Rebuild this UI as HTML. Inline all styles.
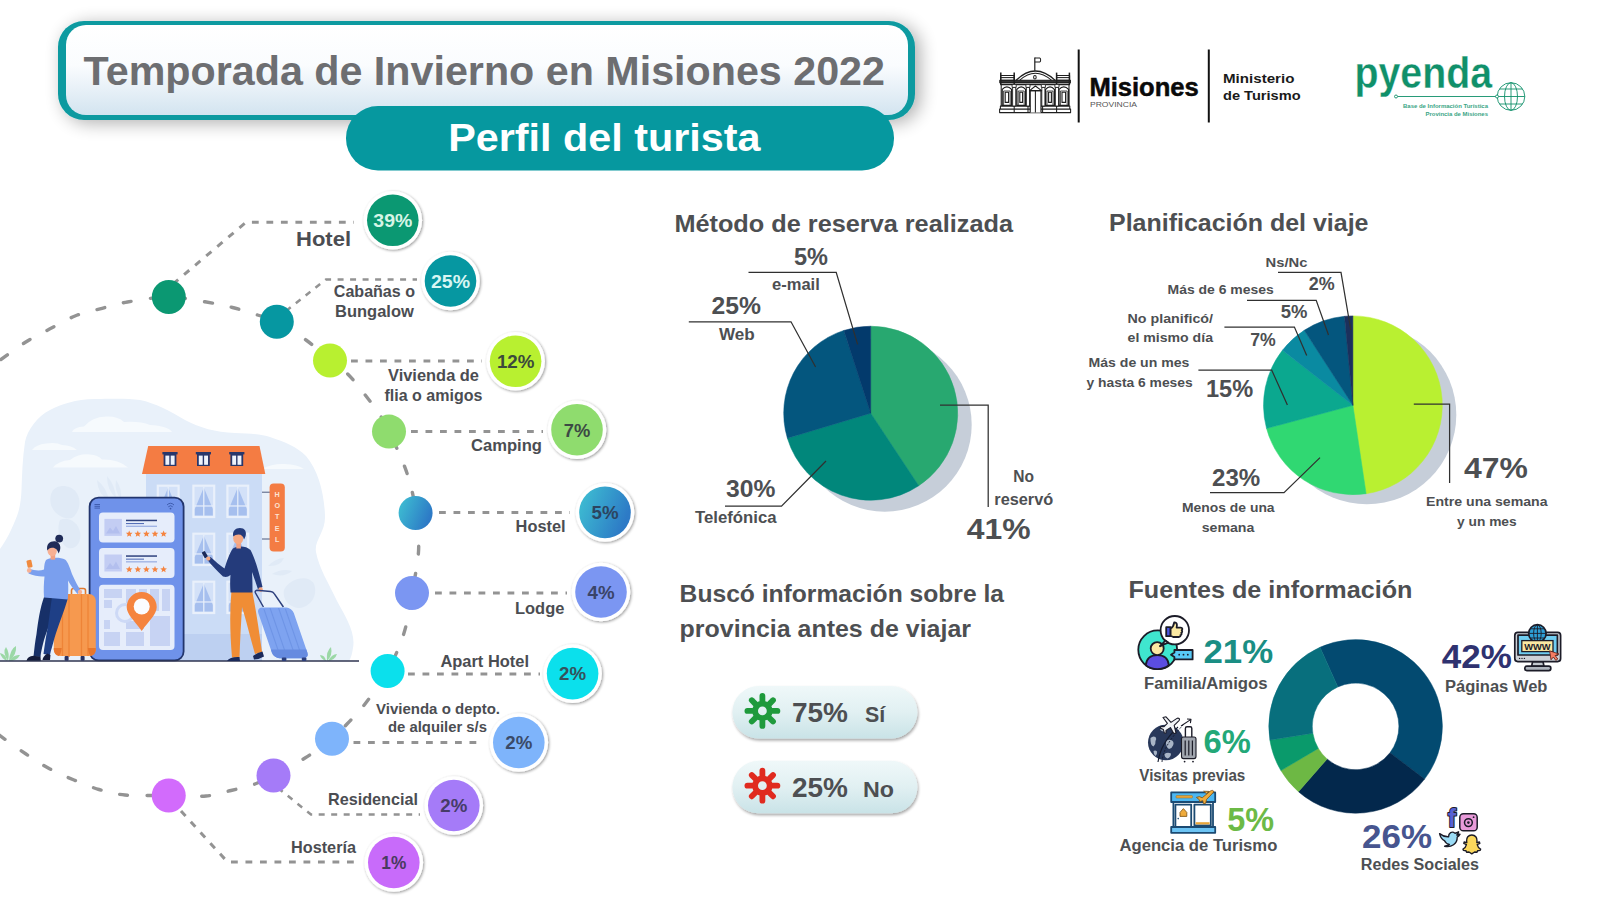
<!DOCTYPE html>
<html lang="es"><head><meta charset="utf-8"><title>Perfil del turista - Temporada de Invierno en Misiones 2022</title>
<style>
html,body{margin:0;padding:0;background:#ffffff;}
body{width:1599px;height:899px;overflow:hidden;font-family:"Liberation Sans", sans-serif;}
svg{display:block;font-family:"Liberation Sans", sans-serif;}
</style></head><body>
<svg width="1599" height="899" viewBox="0 0 1599 899">

<defs>
<linearGradient id="gTitle" x1="0" y1="0" x2="0" y2="1"><stop offset="0" stop-color="#ffffff"/><stop offset="0.45" stop-color="#fafcfe"/><stop offset="1" stop-color="#d3e4f0"/></linearGradient>
<filter id="shTitle" x="-6%" y="-40%" width="114%" height="190%"><feGaussianBlur in="SourceAlpha" stdDeviation="9"/><feOffset dx="5" dy="3"/><feComponentTransfer><feFuncA type="linear" slope="0.32"/></feComponentTransfer><feMerge><feMergeNode/><feMergeNode in="SourceGraphic"/></feMerge></filter>
<linearGradient id="gBlue" x1="0" y1="0" x2="1" y2="0.4"><stop offset="0" stop-color="#3fc3d3"/><stop offset="1" stop-color="#2d7ac6"/></linearGradient><filter id="shBadge" x="-30%" y="-30%" width="160%" height="160%"><feGaussianBlur in="SourceAlpha" stdDeviation="1.7"/><feOffset dx="0.8" dy="1"/><feComponentTransfer><feFuncA type="linear" slope="0.42"/></feComponentTransfer><feMerge><feMergeNode/><feMergeNode in="SourceGraphic"/></feMerge></filter><linearGradient id="gPill" x1="0" y1="0" x2="0" y2="1"><stop offset="0" stop-color="#eff8f9"/><stop offset="0.5" stop-color="#e1f0f2"/><stop offset="1" stop-color="#c9e3e7"/></linearGradient><filter id="shPill" x="-10%" y="-30%" width="120%" height="170%"><feGaussianBlur in="SourceAlpha" stdDeviation="1.8"/><feOffset dx="0.5" dy="1.5"/><feComponentTransfer><feFuncA type="linear" slope="0.35"/></feComponentTransfer><feMerge><feMergeNode/><feMergeNode in="SourceGraphic"/></feMerge></filter>
</defs>

<rect x="58" y="21" width="857" height="99" rx="26" fill="#0a9aa0" filter="url(#shTitle)"/>
<rect x="66" y="25" width="842" height="90" rx="20" fill="url(#gTitle)"/>
<text x="83.6" y="85.2" font-size="40.6" font-weight="700" fill="#6d6e71" text-anchor="start" textLength="801.4" lengthAdjust="spacingAndGlyphs">Temporada de Invierno en Misiones 2022</text>
<rect x="346" y="106" width="548" height="64.5" rx="32" fill="#06989f"/>
<text x="448.2" y="151.0" font-size="39" font-weight="700" fill="#ffffff" text-anchor="start" textLength="312.3" lengthAdjust="spacingAndGlyphs">Perfil del turista</text>
<g fill="none" stroke="#1e1e1e" stroke-width="1.05" stroke-linejoin="round"><rect x="999.6" y="109" width="71" height="3.6" fill="#fff"/><rect x="1000.4" y="106" width="69.4" height="3" fill="#fff"/><line x1="1014.2" y1="106" x2="1014.2" y2="112.6"/><line x1="1028" y1="106" x2="1028" y2="112.6"/><line x1="1042.6" y1="106" x2="1042.6" y2="112.6"/><line x1="1056.6" y1="106" x2="1056.6" y2="112.6"/><rect x="1001.2" y="84.4" width="67.8" height="21.6" fill="#fff"/><rect x="999.8" y="80.2" width="70.6" height="2.6" fill="#333"/><rect x="1000.6" y="82.8" width="69" height="1.8"/><rect x="1000.6" y="75.4" width="13.6" height="4.8"/><rect x="1056.6" y="75.4" width="13" height="4.8"/><line x1="1000.6" y1="77.6" x2="1014.2" y2="77.6"/><line x1="1056.6" y1="77.6" x2="1069.6" y2="77.6"/><line x1="1000.8" y1="72.6" x2="1000.8" y2="84" stroke-width="1.5"/><line x1="1014.2" y1="72.6" x2="1014.2" y2="84" stroke-width="1.5"/><line x1="1056.6" y1="72.6" x2="1056.6" y2="84" stroke-width="1.5"/><line x1="1069.4" y1="72.6" x2="1069.4" y2="84" stroke-width="1.5"/><path d="M1016,80.4 Q1035.2,61.6 1055.2,80.4" stroke-width="1.3"/><path d="M1019.6,80.4 Q1035.2,66.2 1051.6,80.4" stroke-width="1.1"/><ellipse cx="1034.9" cy="77.2" rx="1.3" ry="1.7"/><path d="M1002.2,105.4 V89.4 Q1006.9000000000001,84.4 1011.6,89.4 V105.4 Z" stroke-width="1.25"/><path d="M1003.6,105.4 V91 H1010.2 V105.4" stroke-width="0.8"/><rect x="1005.2" y="92.2" width="3.3999999999999773" height="10.2" stroke-width="1.1"/><path d="M1016.8,105.4 V89.4 Q1021.1999999999999,84.4 1025.6,89.4 V105.4 Z" stroke-width="1.25"/><path d="M1018.1999999999999,105.4 V91 H1024.1999999999998 V105.4" stroke-width="0.8"/><rect x="1019.8" y="92.2" width="2.7999999999999545" height="10.2" stroke-width="1.1"/><path d="M1045.6,105.4 V89.4 Q1050.0,84.4 1054.4,89.4 V105.4 Z" stroke-width="1.25"/><path d="M1047.0,105.4 V91 H1053.0 V105.4" stroke-width="0.8"/><rect x="1048.6" y="92.2" width="2.800000000000182" height="10.2" stroke-width="1.1"/><path d="M1059,105.4 V89.4 Q1063.8,84.4 1068.6,89.4 V105.4 Z" stroke-width="1.25"/><path d="M1060.4,105.4 V91 H1067.1999999999998 V105.4" stroke-width="0.8"/><rect x="1062" y="92.2" width="3.599999999999909" height="10.2" stroke-width="1.1"/><rect x="1012.6" y="87.4" width="3.1" height="18.6" fill="#fff" stroke-width="0.9"/><rect x="1012.1" y="84.4" width="4.1" height="3" fill="#fff" stroke-width="0.9"/><rect x="1026.4" y="87.4" width="3.1" height="18.6" fill="#fff" stroke-width="0.9"/><rect x="1025.9" y="84.4" width="4.1" height="3" fill="#fff" stroke-width="0.9"/><rect x="1041.8" y="87.4" width="3.1" height="18.6" fill="#fff" stroke-width="0.9"/><rect x="1041.3" y="84.4" width="4.1" height="3" fill="#fff" stroke-width="0.9"/><rect x="1055.4" y="87.4" width="3.1" height="18.6" fill="#fff" stroke-width="0.9"/><rect x="1054.9" y="84.4" width="4.1" height="3" fill="#fff" stroke-width="0.9"/><path d="M1030.2,112.6 V90.6 H1041 V112.6" fill="#fff" stroke-width="1.2"/><path d="M1029.6,90.6 L1035.4,86 L1041.6,90.6 Z" stroke-width="1.1"/><line x1="1035.4" y1="90.6" x2="1035.4" y2="112.6"/><line x1="1034.8" y1="70.8" x2="1034.8" y2="57.6" stroke-width="1.2"/><path d="M1034.8,58 H1040.2 Q1041.2,60 1040.2,62 H1034.8" stroke-width="1"/></g>
<line x1="1078.7" y1="49.5" x2="1078.7" y2="122.5" stroke="#111" stroke-width="2"/>
<line x1="1208.8" y1="49.5" x2="1208.8" y2="122.5" stroke="#111" stroke-width="2"/>
<text x="1089.4" y="96.0" font-size="25.5" font-weight="700" fill="#0a0a0a" text-anchor="start" textLength="109.4" lengthAdjust="spacingAndGlyphs" stroke="#0a0a0a" stroke-width="0.5">Misiones</text>
<text x="1090.0" y="106.6" font-size="8" font-weight="400" fill="#555" text-anchor="start" textLength="47.0" lengthAdjust="spacingAndGlyphs">PROVINCIA</text>
<text x="1223.0" y="83.0" font-size="13.5" font-weight="700" fill="#1a1a1a" text-anchor="start" textLength="71.4" lengthAdjust="spacingAndGlyphs">Ministerio</text>
<text x="1223.0" y="99.9" font-size="13.5" font-weight="700" fill="#1a1a1a" text-anchor="start" textLength="77.6" lengthAdjust="spacingAndGlyphs">de Turismo</text>
<text x="1354.5" y="88.4" font-size="43.5" font-weight="700" fill="#10906a" text-anchor="start" textLength="137.5" lengthAdjust="spacingAndGlyphs" stroke="#ffffff" stroke-width="0.3">pyenda</text>
<g fill="none" stroke="#10906a" stroke-width="0.9"><line x1="1397.5" y1="96.5" x2="1497" y2="96.5"/><circle cx="1396" cy="96.5" r="1.5" fill="#fff"/><circle cx="1511" cy="96.5" r="13.8"/><ellipse cx="1511" cy="96.5" rx="6.5" ry="13.8"/><line x1="1511" y1="82.7" x2="1511" y2="110.3"/><line x1="1497.2" y1="96.5" x2="1524.8" y2="96.5"/><path d="M1499.5,89 H1522.5 M1499.5,104 H1522.5"/><circle cx="1497" cy="96.5" r="1.5" fill="#fff"/></g>
<text x="1488.0" y="108.0" font-size="5.6" font-weight="700" fill="#3aa585" text-anchor="end" textLength="85.0" lengthAdjust="spacingAndGlyphs">Base de Información Turística</text>
<text x="1488.0" y="115.6" font-size="5.6" font-weight="700" fill="#3aa585" text-anchor="end" textLength="62.5" lengthAdjust="spacingAndGlyphs">Provincia de Misiones</text>
<path d="M-8.0,366.0 C-2.5,362.1 15.3,348.7 25.0,342.5 C34.7,336.3 41.7,333.2 50.0,328.8 C58.3,324.4 66.7,319.3 75.0,316.0 C83.3,312.7 91.2,311.1 100.0,308.8 C108.8,306.5 116.0,304.0 127.5,302.0 C139.0,300.0 155.9,297.0 168.8,297.0 C181.7,297.0 194.4,300.1 205.0,301.8 C215.6,303.6 223.8,305.3 232.5,307.5 C241.2,309.7 250.1,312.6 257.5,315.0 C264.9,317.4 268.7,317.6 276.8,321.8 C284.9,326.0 297.1,333.6 306.0,340.0 C314.9,346.4 323.1,354.9 330.0,360.5 C336.9,366.1 341.5,367.9 347.5,373.8 C353.5,379.7 360.6,389.1 366.0,396.0 C371.4,402.9 376.2,409.1 380.0,415.0 C383.8,420.9 384.9,423.1 389.0,431.6 C393.1,440.1 400.6,456.1 404.4,466.0 C408.2,475.9 410.1,483.2 412.0,491.0 C413.9,498.8 414.5,503.2 415.6,513.0 C416.7,522.8 419.2,536.7 418.6,550.0 C418.0,563.3 414.4,579.2 412.0,593.0 C409.6,606.8 408.1,620.0 404.0,633.0 C399.9,646.0 394.1,659.2 387.6,671.0 C381.1,682.8 371.8,695.2 365.0,704.0 C358.2,712.8 352.5,718.2 347.0,724.0 C341.5,729.8 339.0,733.1 332.0,738.8 C325.0,744.4 314.8,751.9 305.0,758.0 C295.2,764.1 281.8,771.2 273.5,775.5 C265.2,779.8 262.1,781.5 255.0,784.0 C247.9,786.5 239.2,788.5 231.0,790.5 C222.8,792.5 216.4,795.2 206.0,796.0 C195.6,796.8 182.2,795.7 168.8,795.5 C155.2,795.3 136.6,796.0 125.0,795.0 C113.4,794.0 107.5,792.0 99.0,789.5 C90.5,787.0 82.2,783.4 74.0,780.0 C65.8,776.6 58.0,773.3 50.0,769.0 C42.0,764.7 35.7,760.5 26.0,754.0 C16.3,747.5 -2.3,734.0 -8.0,730.0" fill="none" stroke="#939393" stroke-width="3.4" stroke-dasharray="7.8 19.45" stroke-dashoffset="-11.2" stroke-linecap="round"/>
<path d="M173,284 L246,222.3 H354" fill="none" stroke="#939393" stroke-width="3" stroke-dasharray="6.8 7.7"/>
<path d="M286,311 L326,279.5 H417" fill="none" stroke="#939393" stroke-width="2.5" stroke-dasharray="6 6.5"/>
<path d="M351,361 H482" fill="none" stroke="#939393" stroke-width="3" stroke-dasharray="6.8 7.7"/>
<path d="M411,431.6 H543" fill="none" stroke="#939393" stroke-width="3" stroke-dasharray="6.8 7.7"/>
<path d="M439,512.6 H570" fill="none" stroke="#939393" stroke-width="3" stroke-dasharray="6.8 7.7"/>
<path d="M435,593 H567" fill="none" stroke="#939393" stroke-width="3" stroke-dasharray="6.8 7.7"/>
<path d="M408,674 H540" fill="none" stroke="#939393" stroke-width="3" stroke-dasharray="6.8 7.7"/>
<path d="M353.5,742.5 H484" fill="none" stroke="#939393" stroke-width="3" stroke-dasharray="6.8 7.7"/>
<path d="M278,788 L311,814.5 H420" fill="none" stroke="#939393" stroke-width="2.5" stroke-dasharray="6 6.5"/>
<path d="M181,811 L227.5,862 H361" fill="none" stroke="#939393" stroke-width="3" stroke-dasharray="6.8 7.7"/>
<circle cx="168.8" cy="297" r="17" fill="#0b9872"/>
<circle cx="276.8" cy="321.8" r="17" fill="#0697a1"/>
<circle cx="330" cy="360.5" r="17" fill="#b8f030"/>
<circle cx="389" cy="431.6" r="17" fill="#8fdc6e"/>
<circle cx="415.6" cy="513" r="17" fill="url(#gBlue)"/>
<circle cx="412" cy="593" r="17" fill="#7b96f2"/>
<circle cx="387.6" cy="671" r="17" fill="#0be0ec"/>
<circle cx="332" cy="738.75" r="17" fill="#7eb4fb"/>
<circle cx="273.5" cy="775.5" r="17" fill="#a57bf8"/>
<circle cx="168.75" cy="795.5" r="17" fill="#d26bfc"/>
<circle cx="392.8" cy="220.3" r="29.3" fill="#ffffff" filter="url(#shBadge)"/>
<circle cx="392.8" cy="220.3" r="25.8" fill="#0b9872"/>
<text x="373.3" y="227.1" font-size="19" font-weight="700" fill="#d6f5e6" text-anchor="start" textLength="39.0" lengthAdjust="spacingAndGlyphs">39%</text>
<circle cx="450.5" cy="281" r="29.3" fill="#ffffff" filter="url(#shBadge)"/>
<circle cx="450.5" cy="281" r="25.8" fill="#0697a1"/>
<text x="431.0" y="287.8" font-size="19" font-weight="700" fill="#d8f6f3" text-anchor="start" textLength="39.0" lengthAdjust="spacingAndGlyphs">25%</text>
<circle cx="515.6" cy="361.3" r="29.3" fill="#ffffff" filter="url(#shBadge)"/>
<circle cx="515.6" cy="361.3" r="25.8" fill="#b8f030"/>
<text x="496.9" y="368.1" font-size="19" font-weight="700" fill="#3c4a3c" text-anchor="start" textLength="37.5" lengthAdjust="spacingAndGlyphs">12%</text>
<circle cx="577" cy="429.7" r="29.3" fill="#ffffff" filter="url(#shBadge)"/>
<circle cx="577" cy="429.7" r="25.8" fill="#8fdc6e"/>
<text x="563.8" y="436.5" font-size="19" font-weight="700" fill="#3c4a44" text-anchor="start" textLength="26.5" lengthAdjust="spacingAndGlyphs">7%</text>
<circle cx="605" cy="512.4" r="29.3" fill="#ffffff" filter="url(#shBadge)"/>
<circle cx="605" cy="512.4" r="25.8" fill="url(#gBlue)"/>
<text x="591.5" y="519.2" font-size="19" font-weight="700" fill="#2c4560" text-anchor="start" textLength="27.0" lengthAdjust="spacingAndGlyphs">5%</text>
<circle cx="601" cy="592" r="29.3" fill="#ffffff" filter="url(#shBadge)"/>
<circle cx="601" cy="592" r="25.8" fill="#7b96f2"/>
<text x="587.5" y="598.8" font-size="19" font-weight="700" fill="#3a4468" text-anchor="start" textLength="27.0" lengthAdjust="spacingAndGlyphs">4%</text>
<circle cx="572.6" cy="673.6" r="29.3" fill="#ffffff" filter="url(#shBadge)"/>
<circle cx="572.6" cy="673.6" r="25.8" fill="#0be0ec"/>
<text x="559.1" y="680.4" font-size="19" font-weight="700" fill="#34525c" text-anchor="start" textLength="27.0" lengthAdjust="spacingAndGlyphs">2%</text>
<circle cx="518.8" cy="742.5" r="29.3" fill="#ffffff" filter="url(#shBadge)"/>
<circle cx="518.8" cy="742.5" r="25.8" fill="#7eb4fb"/>
<text x="505.3" y="749.3" font-size="19" font-weight="700" fill="#3a4a68" text-anchor="start" textLength="27.0" lengthAdjust="spacingAndGlyphs">2%</text>
<circle cx="453.8" cy="805.5" r="29.3" fill="#ffffff" filter="url(#shBadge)"/>
<circle cx="453.8" cy="805.5" r="25.8" fill="#a57bf8"/>
<text x="440.3" y="812.3" font-size="19" font-weight="700" fill="#463c68" text-anchor="start" textLength="27.0" lengthAdjust="spacingAndGlyphs">2%</text>
<circle cx="393.8" cy="862.5" r="29.3" fill="#ffffff" filter="url(#shBadge)"/>
<circle cx="393.8" cy="862.5" r="25.8" fill="#c86bfa"/>
<text x="381.3" y="869.3" font-size="19" font-weight="700" fill="#4a3a60" text-anchor="start" textLength="25.0" lengthAdjust="spacingAndGlyphs">1%</text>
<text x="296.0" y="246.0" font-size="21" font-weight="700" fill="#4b4d52" text-anchor="start" textLength="55.0" lengthAdjust="spacingAndGlyphs">Hotel</text>
<text x="333.8" y="296.8" font-size="16.5" font-weight="700" fill="#4b4d52" text-anchor="start" textLength="81.2" lengthAdjust="spacingAndGlyphs">Cabañas o</text>
<text x="335.0" y="316.8" font-size="16.5" font-weight="700" fill="#4b4d52" text-anchor="start" textLength="78.8" lengthAdjust="spacingAndGlyphs">Bungalow</text>
<text x="388.0" y="380.5" font-size="16.5" font-weight="700" fill="#4b4d52" text-anchor="start" textLength="91.0" lengthAdjust="spacingAndGlyphs">Vivienda de</text>
<text x="384.5" y="400.5" font-size="16.5" font-weight="700" fill="#4b4d52" text-anchor="start" textLength="98.0" lengthAdjust="spacingAndGlyphs">flia o amigos</text>
<text x="471.0" y="451.0" font-size="16.5" font-weight="700" fill="#4b4d52" text-anchor="start" textLength="71.0" lengthAdjust="spacingAndGlyphs">Camping</text>
<text x="515.6" y="532.4" font-size="16.5" font-weight="700" fill="#4b4d52" text-anchor="start" textLength="50.0" lengthAdjust="spacingAndGlyphs">Hostel</text>
<text x="515.0" y="613.6" font-size="16.5" font-weight="700" fill="#4b4d52" text-anchor="start" textLength="49.4" lengthAdjust="spacingAndGlyphs">Lodge</text>
<text x="440.4" y="666.6" font-size="16.5" font-weight="700" fill="#4b4d52" text-anchor="start" textLength="88.6" lengthAdjust="spacingAndGlyphs">Apart Hotel</text>
<text x="376.0" y="714.0" font-size="15" font-weight="700" fill="#4b4d52" text-anchor="start" textLength="124.0" lengthAdjust="spacingAndGlyphs">Vivienda o depto.</text>
<text x="388.0" y="732.0" font-size="15" font-weight="700" fill="#4b4d52" text-anchor="start" textLength="99.0" lengthAdjust="spacingAndGlyphs">de alquiler s/s</text>
<text x="328.0" y="804.5" font-size="17" font-weight="700" fill="#4b4d52" text-anchor="start" textLength="90.0" lengthAdjust="spacingAndGlyphs">Residencial</text>
<text x="291.0" y="852.5" font-size="17" font-weight="700" fill="#4b4d52" text-anchor="start" textLength="65.0" lengthAdjust="spacingAndGlyphs">Hostería</text>
<path d="M0,549 C6,541 12,529 17,516 C20,508 21,500 21.5,490 C22,475 22.5,458 25,442 C27,430 38,416 50,410 C62,404 75,399.5 95,399 C115,398.5 130,398.5 140,400 C155,403 170,411 185,420 C200,428 215,432 235,433 C250,433.5 262,434 270,437 C285,442 297,447 306,456 C318,470 324,492 325,515 C326,532 314,540 316,552 C319,568 328,582 337,601 C345,616 356,632 353,648 C352,654 351,658 349,661 L0,661 Z" fill="#e9f1fa"/>
<g fill="#f6fafd"><path d="M72,432 Q74,427 84,426.500 Q92,417 106,416.500 Q118,416 124,422 Q140,421 150,425 Q168,426 172,432 Z"/><path d="M32,450 Q36,444.500 46,443.500 Q56,442 62,445 Q72,445.500 77,450 Z"/><path d="M53,467.500 Q58,461 70,460 Q78,453.500 90,454.500 Q98,455 102,459.500 Q118,459 128,467.500 Z"/><path d="M262,469 Q272,463.500 284,464 Q298,464.500 304,469 Z"/></g>
<g fill="#e0eaf6"><path d="M52,492 C56,484 70,484 76,492 C82,500 80,512 72,518 C64,520 54,514 51,505 C50,500 50,496 52,492Z"/><path d="M60,520 C68,516 78,522 80,532 C82,542 76,550 68,548 C60,544 56,530 60,520Z"/><path d="M97,480 q9,7 12,20 q-11,-5 -12,-20z"/><path d="M107,476 q8,9 9,22 q-9,-8 -9,-22z"/><path d="M116,480 q6,8 5,19 q-7,-8 -5,-19z"/><path d="M268,566 q8,-8 16,-8 q-4,9 -16,8z"/><path d="M272,574 q10,-6 20,-3 q-8,7 -20,3z"/><path d="M284,590 C290,578 308,574 314,584 C318,594 312,606 300,608 C290,608 282,600 284,590Z"/></g>
<rect x="146" y="474" width="116" height="187" fill="#cbdcf6"/>
<rect x="146" y="634" width="116" height="27" fill="#bdd0f1"/>
<polygon points="148.2,446 259.5,446 265.3,474 142,474" fill="#f47c43"/>
<rect x="162.4" y="452" width="15.2" height="2.4" fill="#28376b"/><rect x="163.6" y="454" width="12.8" height="12" fill="#28376b"/><rect x="165.4" y="455.6" width="3.9" height="9.2" fill="#eef3fc"/><rect x="170.7" y="455.6" width="3.9" height="9.2" fill="#eef3fc"/>
<rect x="195.8" y="452" width="15.2" height="2.4" fill="#28376b"/><rect x="197.0" y="454" width="12.8" height="12" fill="#28376b"/><rect x="198.8" y="455.6" width="3.9" height="9.2" fill="#eef3fc"/><rect x="204.1" y="455.6" width="3.9" height="9.2" fill="#eef3fc"/>
<rect x="229.20000000000002" y="452" width="15.2" height="2.4" fill="#28376b"/><rect x="230.4" y="454" width="12.8" height="12" fill="#28376b"/><rect x="232.20000000000002" y="455.6" width="3.9" height="9.2" fill="#eef3fc"/><rect x="237.5" y="455.6" width="3.9" height="9.2" fill="#eef3fc"/>
<rect x="156.7" y="484.6" width="23" height="33.5" fill="#e9f0fb"/><rect x="158.89999999999998" y="486.8" width="18.6" height="29.1" fill="#d3e1f8"/><path d="M168.2,487.6 L159.2,509.1 V515.6 H177.2 V509.1 Z" fill="#a6bfee"/><rect x="167.6" y="486.8" width="1.2" height="29.1" fill="#e9f0fb"/><rect x="158.89999999999998" y="505.37" width="18.6" height="1.2" fill="#e9f0fb"/>
<rect x="156.7" y="532.6" width="23" height="33.5" fill="#e9f0fb"/><rect x="158.89999999999998" y="534.8000000000001" width="18.6" height="29.1" fill="#d3e1f8"/><path d="M168.2,535.6 L159.2,557.1 V563.6 H177.2 V557.1 Z" fill="#a6bfee"/><rect x="167.6" y="534.8000000000001" width="1.2" height="29.1" fill="#e9f0fb"/><rect x="158.89999999999998" y="553.37" width="18.6" height="1.2" fill="#e9f0fb"/>
<rect x="156.7" y="580.6" width="23" height="33.5" fill="#e9f0fb"/><rect x="158.89999999999998" y="582.8000000000001" width="18.6" height="29.1" fill="#d3e1f8"/><path d="M168.2,583.6 L159.2,605.1 V611.6 H177.2 V605.1 Z" fill="#a6bfee"/><rect x="167.6" y="582.8000000000001" width="1.2" height="29.1" fill="#e9f0fb"/><rect x="158.89999999999998" y="601.37" width="18.6" height="1.2" fill="#e9f0fb"/>
<rect x="192.3" y="484.6" width="23" height="33.5" fill="#e9f0fb"/><rect x="194.5" y="486.8" width="18.6" height="29.1" fill="#d3e1f8"/><path d="M203.8,487.6 L194.8,509.1 V515.6 H212.8 V509.1 Z" fill="#a6bfee"/><rect x="203.20000000000002" y="486.8" width="1.2" height="29.1" fill="#e9f0fb"/><rect x="194.5" y="505.37" width="18.6" height="1.2" fill="#e9f0fb"/>
<rect x="192.3" y="532.6" width="23" height="33.5" fill="#e9f0fb"/><rect x="194.5" y="534.8000000000001" width="18.6" height="29.1" fill="#d3e1f8"/><path d="M203.8,535.6 L194.8,557.1 V563.6 H212.8 V557.1 Z" fill="#a6bfee"/><rect x="203.20000000000002" y="534.8000000000001" width="1.2" height="29.1" fill="#e9f0fb"/><rect x="194.5" y="553.37" width="18.6" height="1.2" fill="#e9f0fb"/>
<rect x="192.3" y="580.6" width="23" height="33.5" fill="#e9f0fb"/><rect x="194.5" y="582.8000000000001" width="18.6" height="29.1" fill="#d3e1f8"/><path d="M203.8,583.6 L194.8,605.1 V611.6 H212.8 V605.1 Z" fill="#a6bfee"/><rect x="203.20000000000002" y="582.8000000000001" width="1.2" height="29.1" fill="#e9f0fb"/><rect x="194.5" y="601.37" width="18.6" height="1.2" fill="#e9f0fb"/>
<rect x="226.3" y="484.6" width="23" height="33.5" fill="#e9f0fb"/><rect x="228.5" y="486.8" width="18.6" height="29.1" fill="#d3e1f8"/><path d="M237.8,487.6 L228.8,509.1 V515.6 H246.8 V509.1 Z" fill="#a6bfee"/><rect x="237.20000000000002" y="486.8" width="1.2" height="29.1" fill="#e9f0fb"/><rect x="228.5" y="505.37" width="18.6" height="1.2" fill="#e9f0fb"/>
<rect x="226.3" y="532.6" width="23" height="33.5" fill="#e9f0fb"/><rect x="228.5" y="534.8000000000001" width="18.6" height="29.1" fill="#d3e1f8"/><path d="M237.8,535.6 L228.8,557.1 V563.6 H246.8 V557.1 Z" fill="#a6bfee"/><rect x="237.20000000000002" y="534.8000000000001" width="1.2" height="29.1" fill="#e9f0fb"/><rect x="228.5" y="553.37" width="18.6" height="1.2" fill="#e9f0fb"/>
<rect x="226.3" y="580.6" width="23" height="33.5" fill="#e9f0fb"/><rect x="228.5" y="582.8000000000001" width="18.6" height="29.1" fill="#d3e1f8"/><path d="M237.8,583.6 L228.8,605.1 V611.6 H246.8 V605.1 Z" fill="#a6bfee"/><rect x="237.20000000000002" y="582.8000000000001" width="1.2" height="29.1" fill="#e9f0fb"/><rect x="228.5" y="601.37" width="18.6" height="1.2" fill="#e9f0fb"/>
<path d="M262,492.2 H270 M262,539 H270" stroke="#3b4a70" stroke-width="0.9" fill="none"/>
<rect x="269.6" y="483.4" width="15.2" height="68" rx="4" fill="#f47c43"/>
<text x="277.2" y="496.6" font-size="7.2" font-weight="700" fill="#fde2d2" text-anchor="middle">H</text>
<text x="277.2" y="508.0" font-size="7.2" font-weight="700" fill="#fde2d2" text-anchor="middle">O</text>
<text x="277.2" y="519.4" font-size="7.2" font-weight="700" fill="#fde2d2" text-anchor="middle">T</text>
<text x="277.2" y="530.8" font-size="7.2" font-weight="700" fill="#fde2d2" text-anchor="middle">E</text>
<text x="277.2" y="542.2" font-size="7.2" font-weight="700" fill="#fde2d2" text-anchor="middle">L</text>
<rect x="89.6" y="497.6" width="94" height="162.8" rx="9" fill="#6f92ea" stroke="#22356d" stroke-width="1.8"/>
<path d="M94.5,504.5 h5.5 M94.5,506.3 h5.5 M94.5,508.1 h5.5" stroke="#3a57a8" stroke-width="0.9"/>
<path d="M167,505 q3.5,-3.5 7,0 M168.3,506.8 q2.2,-2.2 4.4,0" stroke="#3a57a8" stroke-width="0.9" fill="none"/><circle cx="170.5" cy="508.6" r="0.9" fill="#3a57a8"/>
<rect x="99" y="512.4" width="75.5" height="30" rx="4" fill="#e6edfb"/>
<rect x="104.4" y="518.9" width="17.5" height="17" fill="#c3cdf3"/>
<path d="M106,533.4 l4,-6 3,3.5 3,-5 4,7.5z" fill="#b3bfee"/>
<rect x="126" y="519.6999999999999" width="31" height="1.5" fill="#2f427e"/>
<rect x="126" y="523.0" width="18" height="1.1" fill="#5670b8"/>
<rect x="126" y="525.6999999999999" width="31" height="1.1" fill="#8fa5de"/>
<polygon points="129.20,530.40 130.13,532.63 132.53,532.82 130.70,534.39 131.26,536.73 129.20,535.48 127.14,536.73 127.70,534.39 125.87,532.82 128.27,532.63" fill="#f5843f"/>
<polygon points="137.80,530.40 138.73,532.63 141.13,532.82 139.30,534.39 139.86,536.73 137.80,535.48 135.74,536.73 136.30,534.39 134.47,532.82 136.87,532.63" fill="#f5843f"/>
<polygon points="146.40,530.40 147.33,532.63 149.73,532.82 147.90,534.39 148.46,536.73 146.40,535.48 144.34,536.73 144.90,534.39 143.07,532.82 145.47,532.63" fill="#f5843f"/>
<polygon points="155.00,530.40 155.93,532.63 158.33,532.82 156.50,534.39 157.06,536.73 155.00,535.48 152.94,536.73 153.50,534.39 151.67,532.82 154.07,532.63" fill="#f5843f"/>
<polygon points="163.60,530.40 164.53,532.63 166.93,532.82 165.10,534.39 165.66,536.73 163.60,535.48 161.54,536.73 162.10,534.39 160.27,532.82 162.67,532.63" fill="#f5843f"/>
<rect x="99" y="548" width="75.5" height="30" rx="4" fill="#e6edfb"/>
<rect x="104.4" y="554.5" width="17.5" height="17" fill="#c3cdf3"/>
<path d="M106,569 l4,-6 3,3.5 3,-5 4,7.5z" fill="#b3bfee"/>
<rect x="126" y="555.3" width="31" height="1.5" fill="#2f427e"/>
<rect x="126" y="558.6" width="18" height="1.1" fill="#5670b8"/>
<rect x="126" y="561.3" width="31" height="1.1" fill="#8fa5de"/>
<polygon points="129.20,566.00 130.13,568.23 132.53,568.42 130.70,569.99 131.26,572.33 129.20,571.08 127.14,572.33 127.70,569.99 125.87,568.42 128.27,568.23" fill="#f5843f"/>
<polygon points="137.80,566.00 138.73,568.23 141.13,568.42 139.30,569.99 139.86,572.33 137.80,571.08 135.74,572.33 136.30,569.99 134.47,568.42 136.87,568.23" fill="#f5843f"/>
<polygon points="146.40,566.00 147.33,568.23 149.73,568.42 147.90,569.99 148.46,572.33 146.40,571.08 144.34,572.33 144.90,569.99 143.07,568.42 145.47,568.23" fill="#f5843f"/>
<polygon points="155.00,566.00 155.93,568.23 158.33,568.42 156.50,569.99 157.06,572.33 155.00,571.08 152.94,572.33 153.50,569.99 151.67,568.42 154.07,568.23" fill="#f5843f"/>
<polygon points="163.60,566.00 164.53,568.23 166.93,568.42 165.10,569.99 165.66,572.33 163.60,571.08 161.54,572.33 162.10,569.99 160.27,568.42 162.67,568.23" fill="#f5843f"/>
<rect x="99" y="584.7" width="75.5" height="65.3" rx="4" fill="#e6edfb"/>
<g fill="#c7d3f3"><rect x="104" y="589" width="18" height="9"/><rect x="104" y="600" width="8" height="8"/><rect x="104" y="620" width="6" height="9"/><rect x="104" y="632" width="16" height="14"/><rect x="126" y="589" width="10" height="14"/><rect x="139" y="589" width="8" height="22"/><rect x="150" y="589" width="9" height="22"/><rect x="162" y="589" width="8" height="22"/><rect x="126" y="632" width="18" height="14"/><rect x="150" y="616" width="20" height="30"/><rect x="126" y="621" width="18" height="8"/></g>
<circle cx="125" cy="613" r="8.5" fill="none" stroke="#cdd9f6" stroke-width="3"/>
<path d="M141.7,631 C134,620 126.7,614.5 126.7,607 A15,15 0 1 1 156.7,607 C156.7,614.5 149.4,620 141.7,631 Z" fill="#f5843f"/>
<circle cx="141.7" cy="606.5" r="8" fill="#fbfcff"/>
<g fill="#9bd8a6"><path d="M8,661 q-6,-9 -2,-14 q4,6 2,14z"/><path d="M9,661 q1,-12 7,-15 q1,9 -7,15z"/><path d="M9,661 q5,-7 11,-6 q-3,6 -11,6z"/><path d="M7,661 q-6,-3 -7,-8 q6,1 7,8z"/><path d="M327,661 q-1,-10 4,-14 q2,8 -4,14z"/><path d="M328,661 q4,-7 9,-7 q-2,6 -9,7z"/><path d="M326,661 q-5,-2 -6,-6 q5,0 6,6z"/></g>
<line x1="0" y1="661" x2="359" y2="661" stroke="#2f3550" stroke-width="1.3"/>
<rect x="71.5" y="588.5" width="14" height="8" rx="2" fill="none" stroke="#e07a30" stroke-width="1.6"/>
<rect x="53.8" y="594" width="42" height="62" rx="6.8" fill="#f6994f"/>
<path d="M62.5,595 V656 M69,594 V657 M81.5,594 V657 M88,595 V656" stroke="#ee8437" stroke-width="1.3" fill="none"/>
<path d="M53.8,648 h8 q-1,7 -3,8 a6.8,6.8 0 0 1 -5,-6z M95.8,648 h-8 q1,7 3,8 a6.8,6.8 0 0 0 5,-6z" fill="#e8762c"/>
<rect x="64.6" y="656" width="4" height="4.8" rx="1" fill="#2a3260"/><rect x="80.6" y="656" width="4" height="4.8" rx="1" fill="#2a3260"/>
<path d="M44.2,596.5 L58,598 C54,612 48,628 44,640 C42,648 41,652 40.5,657 L33.5,656.5 C34.5,648 35,642 36.5,634 C38,622 40,608 44.2,596.5Z" fill="#173068"/>
<path d="M52,597 L67.8,598.5 C64,612 58,626 54.5,638 C52.5,646 51,650 50,655 L43.5,654 C44.5,646 46,636 48,626 C49.5,616 50.5,606 52,597Z" fill="#1e3f86"/>
<path d="M26.5,660.8 q1,-4.500 7,-5 l7,1 l0.300,4z M42.500,660 q0.500,-4 5,-6.500 l3,1.500 l-0.500,5z" fill="#141c3c"/>
<path d="M46,560 C50,557.5 60,557 65,559.5 C68,562 70,568 72,574 C75,581 78.5,587 81,591 L77.5,594 C74,590 70.5,585 68,580.5 C68.5,587 68.3,593 67.8,599.5 L44,597.5 C43.5,590 43.8,583 44.5,576.5 C40,577 33.5,575.5 28.5,573.5 L29.5,569 C34.5,570.5 40,571 44,569.5 C44.2,565 44.8,562 46,560Z" fill="#7a9fee"/>
<rect x="50.6" y="554" width="4.6" height="5.6" fill="#f2a183"/>
<ellipse cx="52.2" cy="550.6" rx="4.7" ry="5.6" fill="#f7b093"/>
<path d="M47.3,550.5 C45.8,543.5 51,540.5 56,541.5 C61,543 61.5,549 58.5,553.5 C57.8,550 55.5,547.6 52,547.8 C50,547.9 48.4,549 47.3,550.5Z" fill="#1f2b58"/>
<circle cx="59.2" cy="538.6" r="3.9" fill="#1f2b58"/>
<rect x="27" y="560" width="5" height="7.6" rx="1" fill="#f08a3e" transform="rotate(-12 29.5 563.8)"/>
<circle cx="29.2" cy="570.4" r="2.3" fill="#f7b093"/>
<circle cx="80" cy="592" r="2.2" fill="#f7b093"/>
<path d="M231.5,590 L252,590 C256,610 259,630 262,652 L255,654 C250,636 246,620 242,607 C241,624 240,642 239.5,657.5 L232,657.5 C230,634 229.5,612 231.5,590Z" fill="#f08d35"/>
<path d="M227,661 q3,-4.5 12.5,-4 l0.5,4z M253,656 q4,-3 9.5,-4.5 l1.5,5 q-5,3 -10,3z" fill="#1b2a5a"/>
<path d="M233,548.5 C239,545.5 246,546 250.5,550 C255,558 259.5,574 262.5,587 L258,589.5 C255.5,582 253.5,576 252,572 C252.5,580 252.5,586 252.5,592.5 L230.5,592.5 C230,586 230,580 230.5,575 C228,577 226,577.5 223,576.5 C217,571 211.5,565 207.5,560 L210.5,557 C215,561 220,565.5 224.5,568.5 C227,561 229.5,553 233,548.5Z" fill="#243b7b"/>
<rect x="236.3" y="542" width="4.6" height="6.5" fill="#f2a183"/>
<ellipse cx="238.2" cy="538.3" rx="5" ry="6" fill="#f7a983"/>
<path d="M233.3,536.5 C231.5,529.5 238,526.5 243,528.5 C247,530.5 246.5,536 244,539.5 C243.5,536.5 241.5,534.5 238.5,534.5 C236.5,534.5 234.5,535.3 233.3,536.5Z" fill="#243b7b"/>
<rect x="203" y="551.3" width="3.6" height="6.6" rx="0.8" fill="#1b2a5a" transform="rotate(-30 204.8 554.6)"/>
<circle cx="208.3" cy="558.6" r="2.1" fill="#f7a983"/>
<circle cx="260.6" cy="589.6" r="2.3" fill="#f7a983"/>
<path d="M263.4,607 L255.4,592.8 Q254.6,590.6 257,590.2 L270.6,591.4 Q273,591.6 274.2,593.6 L283.4,607" fill="none" stroke="#2c3f7c" stroke-width="1.5"/>
<g transform="translate(256.4,607.6) skewX(19)"><rect x="0" y="0" width="35.5" height="50.6" rx="5.5" fill="#7ea3f0"/><path d="M7,1.5 V49 M13.5,0.5 V50 M22,0.5 V50 M28.5,1.5 V49" stroke="#6f95e6" stroke-width="1.2"/><path d="M0,42 h35.5 v3.1 a5.5,5.5 0 0 1 -5.5,5.5 h-24.5 a5.5,5.5 0 0 1 -5.5,-5.5z" fill="#668be0"/></g>
<rect x="281.8" y="657.6" width="4.6" height="3.4" rx="1" fill="#2c3f7c"/><rect x="301.8" y="657.6" width="4.6" height="3.4" rx="1" fill="#2c3f7c"/>
<text x="674.4" y="232.4" font-size="24.5" font-weight="700" fill="#4d4f52" text-anchor="start" textLength="338.6" lengthAdjust="spacingAndGlyphs">Método de reserva realizada</text>
<circle cx="884.7" cy="424.7" r="87.0" fill="#c6ced9"/>
<path d="M870.70,413.20 L870.70,326.20 A87.0,87.0 0 0 1 918.72,485.75 Z" fill="#28a870" stroke="#28a870" stroke-width="0.5" stroke-linejoin="round"/>
<path d="M870.70,413.20 L918.72,485.75 A87.0,87.0 0 0 1 787.37,438.20 Z" fill="#01877b" stroke="#01877b" stroke-width="0.5" stroke-linejoin="round"/>
<path d="M870.70,413.20 L787.37,438.20 A87.0,87.0 0 0 1 843.82,330.46 Z" fill="#04567e" stroke="#04567e" stroke-width="0.5" stroke-linejoin="round"/>
<path d="M870.70,413.20 L843.82,330.46 A87.0,87.0 0 0 1 870.70,326.20 Z" fill="#033a6c" stroke="#033a6c" stroke-width="0.5" stroke-linejoin="round"/>
<text x="794.0" y="265.3" font-size="23.5" font-weight="700" fill="#4d4f52" text-anchor="start" textLength="34.0" lengthAdjust="spacingAndGlyphs">5%</text>
<text x="772.0" y="290.0" font-size="16" font-weight="700" fill="#4d4f52" text-anchor="start" textLength="47.8" lengthAdjust="spacingAndGlyphs">e-mail</text>
<path d="M748.5,272.3 H836.2 L857.6,344.4" fill="none" stroke="#303030" stroke-width="1.25"/>
<text x="711.5" y="313.5" font-size="23.5" font-weight="700" fill="#4d4f52" text-anchor="start" textLength="49.5" lengthAdjust="spacingAndGlyphs">25%</text>
<text x="719.0" y="340.3" font-size="16" font-weight="700" fill="#4d4f52" text-anchor="start" textLength="35.7" lengthAdjust="spacingAndGlyphs">Web</text>
<path d="M688.8,321.8 H791 L815.6,367" fill="none" stroke="#303030" stroke-width="1.25"/>
<text x="726.0" y="496.8" font-size="23.5" font-weight="700" fill="#4d4f52" text-anchor="start" textLength="49.3" lengthAdjust="spacingAndGlyphs">30%</text>
<text x="695.0" y="522.7" font-size="16" font-weight="700" fill="#4d4f52" text-anchor="start" textLength="81.5" lengthAdjust="spacingAndGlyphs">Telefónica</text>
<path d="M725,506.2 H781.5 L826,461" fill="none" stroke="#303030" stroke-width="1.25"/>
<text x="1013.3" y="482.3" font-size="16" font-weight="700" fill="#4d4f52" text-anchor="start" textLength="20.7" lengthAdjust="spacingAndGlyphs">No</text>
<text x="994.3" y="505.0" font-size="16" font-weight="700" fill="#4d4f52" text-anchor="start" textLength="58.9" lengthAdjust="spacingAndGlyphs">reservó</text>
<text x="966.8" y="539.2" font-size="30" font-weight="700" fill="#4d4f52" text-anchor="start" textLength="63.8" lengthAdjust="spacingAndGlyphs">41%</text>
<path d="M940,405 H988.2 V507" fill="none" stroke="#303030" stroke-width="1.25"/>
<text x="1109.0" y="231.4" font-size="24.5" font-weight="700" fill="#4d4f52" text-anchor="start" textLength="259.5" lengthAdjust="spacingAndGlyphs">Planificación del viaje</text>
<circle cx="1366.9" cy="414.8" r="89.4" fill="#c6ced9"/>
<path d="M1352.90,405.30 L1352.90,315.90 A89.4,89.4 0 0 1 1366.11,493.72 Z" fill="#b9f031" stroke="#b9f031" stroke-width="0.5" stroke-linejoin="round"/>
<path d="M1352.90,405.30 L1366.11,493.72 A89.4,89.4 0 0 1 1266.55,428.44 Z" fill="#30d872" stroke="#30d872" stroke-width="0.5" stroke-linejoin="round"/>
<path d="M1352.90,405.30 L1266.55,428.44 A89.4,89.4 0 0 1 1282.45,350.26 Z" fill="#0ba88f" stroke="#0ba88f" stroke-width="0.5" stroke-linejoin="round"/>
<path d="M1352.90,405.30 L1282.45,350.26 A89.4,89.4 0 0 1 1304.21,330.32 Z" fill="#0a8aa1" stroke="#0a8aa1" stroke-width="0.5" stroke-linejoin="round"/>
<path d="M1352.90,405.30 L1304.21,330.32 A89.4,89.4 0 0 1 1344.49,316.30 Z" fill="#04567e" stroke="#04567e" stroke-width="0.5" stroke-linejoin="round"/>
<path d="M1352.90,405.30 L1344.49,316.30 A89.4,89.4 0 0 1 1352.90,315.90 Z" fill="#1b305c" stroke="#1b305c" stroke-width="0.5" stroke-linejoin="round"/>
<text x="1265.6" y="267.4" font-size="13.5" font-weight="700" fill="#4d4f52" text-anchor="start" textLength="41.9" lengthAdjust="spacingAndGlyphs">Ns/Nc</text>
<text x="1308.8" y="290.0" font-size="18" font-weight="700" fill="#4d4f52" text-anchor="start" textLength="25.9" lengthAdjust="spacingAndGlyphs">2%</text>
<path d="M1278,272.3 H1341 L1350.8,330" fill="none" stroke="#303030" stroke-width="1.25"/>
<text x="1167.6" y="293.7" font-size="13.5" font-weight="700" fill="#4d4f52" text-anchor="start" textLength="106.2" lengthAdjust="spacingAndGlyphs">Más de 6 meses</text>
<text x="1280.8" y="317.6" font-size="18" font-weight="700" fill="#4d4f52" text-anchor="start" textLength="26.7" lengthAdjust="spacingAndGlyphs">5%</text>
<path d="M1247,300.3 H1316.2 L1328.5,335" fill="none" stroke="#303030" stroke-width="1.25"/>
<text x="1127.6" y="322.6" font-size="13.5" font-weight="700" fill="#4d4f52" text-anchor="start" textLength="85.4" lengthAdjust="spacingAndGlyphs">No planificó/</text>
<text x="1127.6" y="341.5" font-size="13.5" font-weight="700" fill="#4d4f52" text-anchor="start" textLength="85.4" lengthAdjust="spacingAndGlyphs">el mismo día</text>
<text x="1250.3" y="345.6" font-size="18" font-weight="700" fill="#4d4f52" text-anchor="start" textLength="25.5" lengthAdjust="spacingAndGlyphs">7%</text>
<path d="M1224.4,327 H1294.4 L1306.7,355.5" fill="none" stroke="#303030" stroke-width="1.25"/>
<text x="1088.5" y="367.0" font-size="13.5" font-weight="700" fill="#4d4f52" text-anchor="start" textLength="100.9" lengthAdjust="spacingAndGlyphs">Más de un mes</text>
<text x="1086.5" y="386.8" font-size="13.5" font-weight="700" fill="#4d4f52" text-anchor="start" textLength="106.2" lengthAdjust="spacingAndGlyphs">y hasta 6 meses</text>
<text x="1206.0" y="396.7" font-size="23.5" font-weight="700" fill="#4d4f52" text-anchor="start" textLength="47.2" lengthAdjust="spacingAndGlyphs">15%</text>
<path d="M1198.4,370 H1271.7 L1287.4,405" fill="none" stroke="#303030" stroke-width="1.25"/>
<text x="1212.0" y="486.4" font-size="23.5" font-weight="700" fill="#4d4f52" text-anchor="start" textLength="48.2" lengthAdjust="spacingAndGlyphs">23%</text>
<text x="1182.0" y="512.4" font-size="13.5" font-weight="700" fill="#4d4f52" text-anchor="start" textLength="92.6" lengthAdjust="spacingAndGlyphs">Menos de una</text>
<text x="1201.7" y="531.7" font-size="13.5" font-weight="700" fill="#4d4f52" text-anchor="start" textLength="52.7" lengthAdjust="spacingAndGlyphs">semana</text>
<path d="M1210,492.6 H1284 L1320,457.6" fill="none" stroke="#303030" stroke-width="1.25"/>
<text x="1464.0" y="478.2" font-size="30" font-weight="700" fill="#4d4f52" text-anchor="start" textLength="63.8" lengthAdjust="spacingAndGlyphs">47%</text>
<text x="1426.0" y="505.8" font-size="13.5" font-weight="700" fill="#4d4f52" text-anchor="start" textLength="121.6" lengthAdjust="spacingAndGlyphs">Entre una semana</text>
<text x="1457.0" y="525.5" font-size="13.5" font-weight="700" fill="#4d4f52" text-anchor="start" textLength="59.7" lengthAdjust="spacingAndGlyphs">y un mes</text>
<path d="M1413.8,404 H1449.6 V483" fill="none" stroke="#303030" stroke-width="1.25"/>
<text x="679.6" y="601.5" font-size="24.5" font-weight="700" fill="#4d4f52" text-anchor="start" textLength="324.4" lengthAdjust="spacingAndGlyphs">Buscó información sobre la</text>
<text x="679.6" y="636.5" font-size="24.5" font-weight="700" fill="#4d4f52" text-anchor="start" textLength="291.4" lengthAdjust="spacingAndGlyphs">provincia antes de viajar</text>
<rect x="732.4" y="686" width="185" height="52.5" rx="26.2" fill="url(#gPill)" filter="url(#shPill)"/>
<g stroke="#1f9a3c" stroke-linecap="round" fill="none"><line x1="762.40" y1="700.90" x2="762.40" y2="695.90" stroke-width="5.8"/><line x1="769.47" y1="703.83" x2="773.01" y2="700.29" stroke-width="5.8"/><line x1="772.40" y1="710.90" x2="777.40" y2="710.90" stroke-width="5.8"/><line x1="769.47" y1="717.97" x2="773.01" y2="721.51" stroke-width="5.8"/><line x1="762.40" y1="720.90" x2="762.40" y2="725.90" stroke-width="5.8"/><line x1="755.33" y1="717.97" x2="751.79" y2="721.51" stroke-width="5.8"/><line x1="752.40" y1="710.90" x2="747.40" y2="710.90" stroke-width="5.8"/><line x1="755.33" y1="703.83" x2="751.79" y2="700.29" stroke-width="5.8"/><circle cx="762.4" cy="710.9" r="7.3" stroke-width="5.8"/></g>
<text x="792.0" y="721.8" font-size="28" font-weight="700" fill="#4d4f52" text-anchor="start" textLength="56.0" lengthAdjust="spacingAndGlyphs">75%</text>
<text x="865.0" y="721.8" font-size="22" font-weight="700" fill="#4d4f52" text-anchor="start" textLength="20.2" lengthAdjust="spacingAndGlyphs">Sí</text>
<rect x="732.4" y="760.8" width="185" height="52.5" rx="26.2" fill="url(#gPill)" filter="url(#shPill)"/>
<g stroke="#e02a1f" stroke-linecap="round" fill="none"><line x1="762.40" y1="775.70" x2="762.40" y2="770.70" stroke-width="5.8"/><line x1="769.47" y1="778.63" x2="773.01" y2="775.09" stroke-width="5.8"/><line x1="772.40" y1="785.70" x2="777.40" y2="785.70" stroke-width="5.8"/><line x1="769.47" y1="792.77" x2="773.01" y2="796.31" stroke-width="5.8"/><line x1="762.40" y1="795.70" x2="762.40" y2="800.70" stroke-width="5.8"/><line x1="755.33" y1="792.77" x2="751.79" y2="796.31" stroke-width="5.8"/><line x1="752.40" y1="785.70" x2="747.40" y2="785.70" stroke-width="5.8"/><line x1="755.33" y1="778.63" x2="751.79" y2="775.09" stroke-width="5.8"/><circle cx="762.4" cy="785.6999999999999" r="7.3" stroke-width="5.8"/></g>
<text x="792.0" y="796.6" font-size="28" font-weight="700" fill="#4d4f52" text-anchor="start" textLength="56.0" lengthAdjust="spacingAndGlyphs">25%</text>
<text x="863.0" y="796.6" font-size="22" font-weight="700" fill="#4d4f52" text-anchor="start" textLength="31.0" lengthAdjust="spacingAndGlyphs">No</text>
<text x="1128.5" y="597.7" font-size="24.5" font-weight="700" fill="#4d4f52" text-anchor="start" textLength="283.9" lengthAdjust="spacingAndGlyphs">Fuentes de información</text>
<path d="M1320.02,647.23 A86.8,86.8 0 0 1 1424.56,779.12 L1390.00,752.70 A43.3,43.3 0 0 0 1337.85,686.91 Z" fill="#034a70" stroke="#034a70" stroke-width="0.5" stroke-linejoin="round"/>
<path d="M1424.56,779.12 A86.8,86.8 0 0 1 1298.43,791.71 L1327.08,758.98 A43.3,43.3 0 0 0 1390.00,752.70 Z" fill="#03284c" stroke="#03284c" stroke-width="0.5" stroke-linejoin="round"/>
<path d="M1298.43,791.71 A86.8,86.8 0 0 1 1280.89,770.58 L1318.33,748.44 A43.3,43.3 0 0 0 1327.08,758.98 Z" fill="#6db844" stroke="#6db844" stroke-width="0.5" stroke-linejoin="round"/>
<path d="M1280.89,770.58 A86.8,86.8 0 0 1 1269.87,739.98 L1312.83,733.17 A43.3,43.3 0 0 0 1318.33,748.44 Z" fill="#0a9a6b" stroke="#0a9a6b" stroke-width="0.5" stroke-linejoin="round"/>
<path d="M1269.87,739.98 A86.8,86.8 0 0 1 1320.02,647.23 L1337.85,686.91 A43.3,43.3 0 0 0 1312.83,733.17 Z" fill="#086f7d" stroke="#086f7d" stroke-width="0.5" stroke-linejoin="round"/>
<text x="1203.5" y="662.6" font-size="33.5" font-weight="700" fill="#1a8e84" text-anchor="start" textLength="69.7" lengthAdjust="spacingAndGlyphs">21%</text>
<text x="1144.0" y="688.8" font-size="16" font-weight="700" fill="#4d4f52" text-anchor="start" textLength="123.6" lengthAdjust="spacingAndGlyphs">Familia/Amigos</text>
<text x="1203.6" y="753.3" font-size="33.5" font-weight="700" fill="#23a878" text-anchor="start" textLength="47.3" lengthAdjust="spacingAndGlyphs">6%</text>
<text x="1139.3" y="780.5" font-size="16" font-weight="700" fill="#4d4f52" text-anchor="start" textLength="106.0" lengthAdjust="spacingAndGlyphs">Visitas previas</text>
<text x="1227.2" y="830.5" font-size="33.5" font-weight="700" fill="#6cba46" text-anchor="start" textLength="46.8" lengthAdjust="spacingAndGlyphs">5%</text>
<text x="1119.5" y="851.2" font-size="16" font-weight="700" fill="#4d4f52" text-anchor="start" textLength="157.8" lengthAdjust="spacingAndGlyphs">Agencia de Turismo</text>
<text x="1441.7" y="668.4" font-size="33.5" font-weight="700" fill="#2f3270" text-anchor="start" textLength="70.1" lengthAdjust="spacingAndGlyphs">42%</text>
<text x="1445.0" y="692.2" font-size="16" font-weight="700" fill="#4d4f52" text-anchor="start" textLength="102.4" lengthAdjust="spacingAndGlyphs">Páginas Web</text>
<text x="1362.0" y="847.5" font-size="34" font-weight="700" fill="#47558f" text-anchor="start" textLength="70.0" lengthAdjust="spacingAndGlyphs">26%</text>
<text x="1360.8" y="870.0" font-size="16" font-weight="700" fill="#4d4f52" text-anchor="start" textLength="118.2" lengthAdjust="spacingAndGlyphs">Redes Sociales</text>
<g stroke="#1c1c28" stroke-width="1.8" stroke-linejoin="round"><circle cx="1157.7" cy="649.8" r="19.4" fill="#3fe6cf"/><path d="M1145.8,665.2 C1146.5,658.5 1151,655.2 1157.3,655.2 C1163.6,655.2 1168.2,658.5 1168.8,665.2 C1162,670.4 1152.6,670.4 1145.8,665.2Z" fill="#5b4de2"/><circle cx="1157.2" cy="648.6" r="6.5" fill="#fbe9a2"/><path d="M1163.2,643.6 L1160,646.2 L1166.2,642.4" fill="#fff"/><circle cx="1174.8" cy="630.2" r="14.2" fill="#ffffff"/><path d="M1165.4,640.6 L1160.3,645.8 L1168.2,642.6Z" fill="#fff"/><rect x="1166.2" y="627.2" width="4.4" height="9" fill="#4a56e2"/><path d="M1170.6,635.8 V628.6 C1172.6,627.4 1173.8,625.2 1174.2,622.4 C1176.4,622 1177.6,624 1176.6,627.6 H1180.8 C1182.6,627.6 1182.8,629.6 1181.6,630.2 C1182.6,630.8 1182.4,632.4 1181.2,632.8 C1182,633.6 1181.6,635 1180.4,635.2 C1180.8,636.2 1180,637 1178.8,637 H1173.2Z" fill="#fbe9a2"/><path d="M1174.4,650 H1192.6 V659.4 H1174.4 V657 L1171,654.7 L1174.4,652.4Z" fill="#58c9f6"/></g>
<g fill="#1c1c28"><circle cx="1179.2" cy="654.7" r="0.9"/><circle cx="1183.5" cy="654.7" r="0.9"/><circle cx="1187.8" cy="654.7" r="0.9"/></g>
<circle cx="1165.8" cy="742.5" r="17.8" fill="#28385a"/>
<g fill="#a9b5c6"><path d="M1150.5,738 q2.5,-2.5 5,-1 q1.5,2 0,4 q0.5,3 -2,5.5 q-3.5,-1.5 -3,-8.500z"/><path d="M1160,729.500 q3,-2.500 6,-1.500 q1,1.500 -1,3 q-2.500,1.500 -5,-1.500z"/><path d="M1166,741 q3,-2 6,-0.500 q2.500,2 1,5 q-1,3 -4,3.500 q-3.500,-2 -3,-8z"/><path d="M1164.500,754 q3,-2 6.500,-0.500 q0,3.500 -3.500,5 q-3,-1 -3,-4.500z"/><path d="M1153.500,751 q2,-1 3.500,0.500 q0.500,3 -1.500,4.500 q-2,-1.500 -2,-5z"/></g>
<path d="M1158,762 C1160,748 1166,738 1178,727" fill="none" stroke="#151c30" stroke-width="1.1"/>
<path d="M1162,762 C1163,750 1169,740 1184,724" fill="none" stroke="#151c30" stroke-width="0.9" stroke-dasharray="2 1.5"/>
<g stroke="#1c1c28" stroke-width="1.1" stroke-linejoin="round"><path d="M1163,717.5 L1166,716.8 L1171,722.4 L1176.6,718.6 C1178.4,717.4 1180.4,718.8 1179,720.6 L1174.2,725.4 L1176,733 L1173.8,733.6 L1170.4,727.6 L1166,730.4 L1166,733 L1164.4,733.2 L1163.4,729.6 L1160.2,728 L1160.8,726.4 L1163.8,726.8 L1167.4,723.4 Z" fill="#f2f4f7"/><path d="M1181,726 L1190.6,719.6 M1187,719 L1191,719.2 L1190.4,723.2" fill="none"/><path d="M1185.4,737 V728.5 Q1185.4,726.8 1187,726.8 H1190.2 Q1191.8,726.8 1191.8,728.5 V737" fill="none" stroke-width="1.4"/><rect x="1181.5" y="737" width="14.5" height="21.6" rx="2" fill="#a0a5ae"/><path d="M1185.2,740.5 V755.5 M1188.8,740.5 V755.5 M1192.4,740.5 V755.5" fill="none" stroke-width="1.2"/></g>
<circle cx="1184.6" cy="761.6" r="0.9" fill="#1c1c28"/><circle cx="1193" cy="761.6" r="0.9" fill="#1c1c28"/>
<g stroke="#1b4a72" stroke-width="1.8" stroke-linejoin="round"><rect x="1171.2" y="792.4" width="44" height="9.6" fill="#4db7f1"/><rect x="1173.4" y="802" width="39.6" height="25" fill="#ffffff"/><rect x="1171.2" y="827" width="44" height="5.8" fill="#6cc4f4"/><rect x="1175.4" y="804.6" width="15.8" height="22.4" fill="#ffffff"/><rect x="1194.4" y="804.6" width="16.4" height="20.8" fill="#ffffff"/></g>
<rect x="1176" y="795.6" width="16.5" height="2.4" rx="0.8" fill="#e9a63a" stroke="#9a6a18" stroke-width="0.5"/>
<path d="M1180,812.4 L1183.4,808.6 L1186.8,812.4 V816.4 H1180Z" fill="#efab3c" stroke="#7a4f12" stroke-width="0.8" stroke-linejoin="round"/>
<rect x="1195.6" y="822.2" width="14" height="2.2" fill="#e9a63a"/>
<circle cx="1178.2" cy="818.6" r="0.8" fill="#1b4a72"/>
<path d="M1196.4,797.4 L1199.4,796.6 L1202.2,797.8 L1210.4,791 C1212.6,789.6 1214.6,790.8 1213,792.8 L1206.6,799.4 L1205.6,803.4 L1203.4,803.6 L1202.8,800.6 L1199.6,801.6 L1199.2,799.6 Z" fill="#efab3c" stroke="#7a4f12" stroke-width="0.8" stroke-linejoin="round"/>
<path d="M1203.6,791.2 L1209,791.4 L1206.6,793.6 Z" fill="#efab3c" stroke="#7a4f12" stroke-width="0.7" stroke-linejoin="round"/>
<g stroke="#1c1c28" stroke-width="1.7" stroke-linejoin="round"><path d="M1532.6,661.6 H1543 L1544,666.4 H1531.6Z" fill="#c3c8cf"/><rect x="1524.8" y="666.2" width="26" height="4.4" rx="2" fill="#aeb4bd"/><rect x="1514.8" y="632.4" width="45.8" height="29.2" rx="3" fill="#cdd1d7"/><rect x="1518" y="635.2" width="39.4" height="19.8" fill="#6fcdf1"/><circle cx="1537.4" cy="633.4" r="8.7" fill="#2d9fd6"/></g>
<g stroke="#1c1c28" stroke-width="0.9" fill="none"><ellipse cx="1537.4" cy="633.4" rx="3.8" ry="8.7"/><path d="M1537.4,624.7 V642.1 M1528.7,633.4 H1546.1 M1530.2,628.8 H1544.6 M1530.2,638 H1544.6"/></g>
<rect x="1521.8" y="640.6" width="31.2" height="11" fill="#fbe8a2" stroke="#1c1c28" stroke-width="1.3"/>
<text x="1537.4" y="649.5" font-size="8.6" font-weight="700" fill="#20202a" text-anchor="middle" textLength="26.5" lengthAdjust="spacingAndGlyphs">WWW</text>
<g fill="#1c1c28"><circle cx="1519.6" cy="658.4" r="0.7"/><circle cx="1522" cy="658.4" r="0.7"/><circle cx="1524.4" cy="658.4" r="0.7"/></g>
<path d="M1549.6,650.8 L1559,654 L1555.2,655.6 L1557.8,659 L1555.8,660.4 L1553.4,657 L1551,659.8 Z" fill="#f57c62" stroke="#5a1f16" stroke-width="0.8" stroke-linejoin="round"/>
<text x="1451.8" y="826.6" font-size="25" font-weight="700" fill="#5661d2" text-anchor="middle" stroke="#1c1c28" stroke-width="2" stroke-linejoin="round" paint-order="stroke">f</text>
<g stroke="#1c1c28" stroke-width="1.5" stroke-linejoin="round"><rect x="1459.8" y="813.8" width="17.4" height="17" rx="3.6" fill="#e89ad9"/><circle cx="1468.4" cy="822.6" r="3.9" fill="#e89ad9"/></g>
<circle cx="1468.4" cy="822.6" r="1.3" fill="#1c1c28"/><circle cx="1473.6" cy="817.2" r="0.9" fill="#1c1c28"/>
<path d="M1439.6,833.6 C1442.6,836 1445.6,837 1448.6,836.8 C1448.4,833 1452,830.8 1455,833.2 C1456.4,833 1457.6,832.4 1458.6,831.8 C1458.4,833.2 1457.6,834.2 1456.8,835 C1458,835 1459,834.6 1460,834.2 C1459.2,835.6 1458.2,836.6 1457.2,837.2 C1457.4,843.6 1451.4,847.8 1444.6,846.2 C1446.6,846 1448.2,845.4 1449.4,844.4 C1446.8,844 1445.2,842.6 1444.4,840.6 C1442,839.4 1440.2,836.6 1439.6,833.6Z" fill="#9bdcf6" stroke="#1c1c28" stroke-width="1.4" stroke-linejoin="round"/>
<path d="M1471.8,835 C1475.4,835 1477.2,837.8 1477,841 L1476.8,842.6 L1479.4,842 L1479.8,843.4 L1477.2,844.6 C1477.8,847 1479.2,848.6 1480.6,849.2 L1480.2,850.4 L1477.6,850.8 L1477,852.2 L1474.6,852 L1471.8,853.8 L1469,852 L1466.6,852.2 L1466,850.8 L1463.4,850.4 L1463,849.2 C1464.4,848.6 1465.8,847 1466.4,844.6 L1463.8,843.4 L1464.2,842 L1466.8,842.6 L1466.6,841 C1466.4,837.8 1468.2,835 1471.8,835Z" fill="#fbd85c" stroke="#1c1c28" stroke-width="1.4" stroke-linejoin="round"/>
</svg>
</body></html>
